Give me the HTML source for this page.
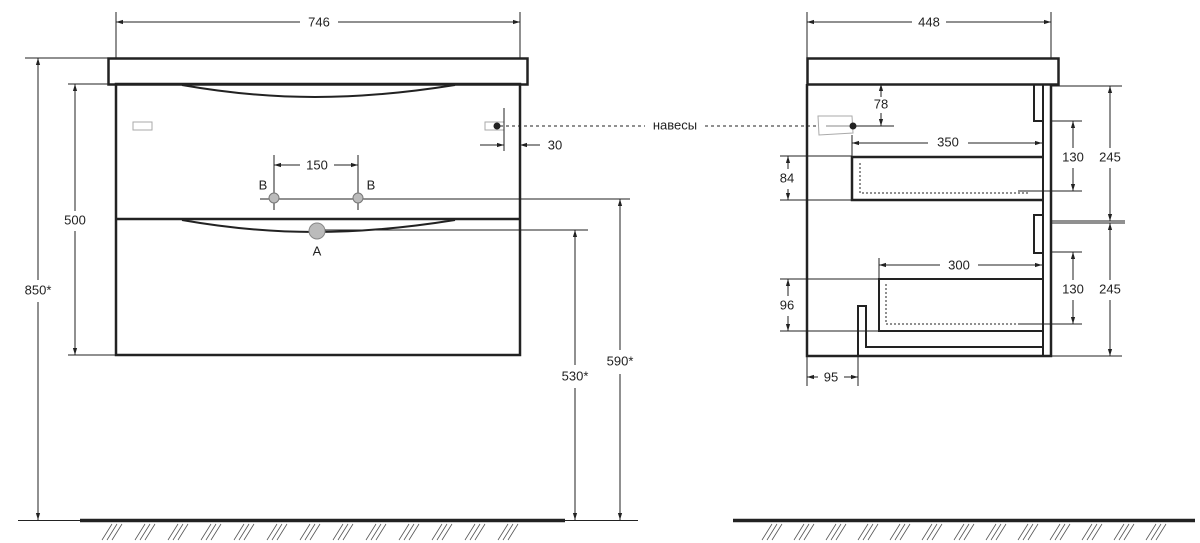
<!DOCTYPE html>
<html><head><meta charset="utf-8"><style>
html,body{margin:0;padding:0;background:#fff;}
svg{display:block}
text{font-family:"Liberation Sans",sans-serif;font-size:13px;fill:#222;text-anchor:middle;dominant-baseline:middle}
</style></head><body>
<svg width="1200" height="543" viewBox="0 0 1200 543" xmlns="http://www.w3.org/2000/svg">
<defs>
<marker id="a" viewBox="0 0 10 10" refX="10" refY="5" markerWidth="7" markerHeight="7" orient="auto-start-reverse"><path d="M0,2 L10,5 L0,8z" fill="#222"/></marker>
<pattern id="h" x="100" y="523" width="33" height="18" patternUnits="userSpaceOnUse">
<path d="M2,17 L12,1 M7,17 L17,1 M12,17 L22,1" stroke="#555" stroke-width="0.8" fill="none"/>
</pattern>
<pattern id="h2" x="760" y="523" width="32" height="18" patternUnits="userSpaceOnUse">
<path d="M2,17 L12,1 M7,17 L17,1 M12,17 L22,1" stroke="#555" stroke-width="0.8" fill="none"/>
</pattern>
</defs>
<g stroke="#222" fill="none" stroke-width="1">
<!-- LEFT VIEW -->
<rect x="108.5" y="58.5" width="419" height="26" stroke-width="2.5"/>
<rect x="116" y="84" width="404" height="271" stroke-width="2.5"/>
<line x1="116" y1="219" x2="520" y2="219" stroke-width="2.5"/>
<path d="M182,85 Q250,97 315,97 Q380,97 455,85" stroke-width="2"/>
<path d="M182,220 Q250,232 315,232 Q380,232 455,220" stroke-width="2"/>
<rect x="133" y="122" width="19" height="8" stroke="#aaa"/>
<rect x="485" y="122" width="19" height="8" stroke="#aaa"/>
<circle cx="497" cy="126" r="3" fill="#222"/>
<line x1="500" y1="126" x2="645" y2="126" stroke-dasharray="3,3"/>
<line x1="705" y1="126" x2="830" y2="126" stroke-dasharray="3,3"/>
<line x1="116" y1="12" x2="116" y2="58"/><line x1="520" y1="12" x2="520" y2="58"/>
<line x1="116" y1="22" x2="300" y2="22" marker-start="url(#a)"/><line x1="338" y1="22" x2="520" y2="22" marker-end="url(#a)"/>
<line x1="25" y1="58" x2="108" y2="58"/>
<line x1="38" y1="58" x2="38" y2="280" marker-start="url(#a)"/><line x1="38" y1="302" x2="38" y2="520" marker-end="url(#a)"/>
<line x1="68" y1="84" x2="116" y2="84"/><line x1="68" y1="355" x2="116" y2="355"/>
<line x1="75" y1="84" x2="75" y2="211" marker-start="url(#a)"/><line x1="75" y1="231" x2="75" y2="355" marker-end="url(#a)"/>
<line x1="274" y1="155" x2="274" y2="210"/><line x1="358" y1="155" x2="358" y2="210"/>
<line x1="274" y1="165" x2="300" y2="165" marker-start="url(#a)"/><line x1="334" y1="165" x2="358" y2="165" marker-end="url(#a)"/>
<line x1="260" y1="199" x2="630" y2="199"/>
<circle cx="274" cy="198" r="5" fill="#bbb" stroke="#777"/>
<circle cx="358" cy="198" r="5" fill="#bbb" stroke="#777"/>
<circle cx="317" cy="231" r="8" fill="#bbb" stroke="#888"/>
<line x1="325" y1="230" x2="588" y2="230"/>
<line x1="504" y1="108" x2="504" y2="151"/>
<line x1="480" y1="145" x2="504" y2="145" marker-end="url(#a)"/>
<line x1="540" y1="145" x2="520" y2="145" marker-end="url(#a)"/>
<line x1="620" y1="199" x2="620" y2="350" marker-start="url(#a)"/><line x1="620" y1="374" x2="620" y2="520" marker-end="url(#a)"/>
<line x1="575" y1="230" x2="575" y2="365" marker-start="url(#a)"/><line x1="575" y1="388" x2="575" y2="520" marker-end="url(#a)"/>
<line x1="18" y1="520.5" x2="638" y2="520.5"/>
<line x1="80" y1="520.5" x2="565" y2="520.5" stroke-width="3.5"/>
<rect x="100" y="523" width="430" height="18" fill="url(#h)" stroke="none"/>
<!-- RIGHT VIEW -->
<rect x="807.5" y="58.5" width="251" height="26" stroke-width="2.5"/>
<path d="M807,84 V356 H1051 V84" stroke-width="2.5"/>
<line x1="1043" y1="84" x2="1043" y2="356" stroke-width="2"/>
<path d="M1043,121 H1034 V85" stroke-width="2"/>
<path d="M1043,253 H1034 V215 H1043" stroke-width="2"/>
<line x1="1051" y1="221" x2="1125" y2="221"/><line x1="1051" y1="223" x2="1125" y2="223"/>
<path d="M1042,157 H852 V200 H1042" stroke-width="2.5"/>
<path d="M860,163 V193 H1030" stroke-dasharray="2,2"/>
<path d="M1042,279 H879 V331 H1042" stroke-width="2"/>
<path d="M886,284 V324 H1030" stroke-dasharray="2,2"/>
<path d="M858,356 V306 H866 V347 H1042" stroke-width="2"/>
<path d="M818,116 L852,116 L853,133 L819,135z" stroke="#aaa" fill="#fff"/>
<line x1="826" y1="126" x2="852" y2="126" stroke="#888"/>
<circle cx="853" cy="126" r="3" fill="#222"/>
<line x1="807" y1="12" x2="807" y2="58"/><line x1="1051" y1="12" x2="1051" y2="58"/>
<line x1="807" y1="22" x2="912" y2="22" marker-start="url(#a)"/><line x1="946" y1="22" x2="1051" y2="22" marker-end="url(#a)"/>
<line x1="881" y1="84" x2="881" y2="97" marker-start="url(#a)"/><line x1="881" y1="113" x2="881" y2="126" marker-end="url(#a)"/>
<line x1="853" y1="126" x2="894" y2="126"/>
<line x1="852" y1="135" x2="852" y2="157"/>
<line x1="852" y1="143" x2="928" y2="143" marker-start="url(#a)"/><line x1="968" y1="143" x2="1042" y2="143" marker-end="url(#a)"/>
<line x1="879" y1="258" x2="879" y2="279"/>
<line x1="879" y1="265" x2="940" y2="265" marker-start="url(#a)"/><line x1="978" y1="265" x2="1042" y2="265" marker-end="url(#a)"/>
<line x1="780" y1="156" x2="852" y2="156"/><line x1="780" y1="200" x2="852" y2="200"/>
<line x1="788" y1="156" x2="788" y2="169" marker-start="url(#a)"/><line x1="788" y1="189" x2="788" y2="200" marker-end="url(#a)"/>
<line x1="780" y1="279" x2="879" y2="279"/><line x1="780" y1="331" x2="879" y2="331"/>
<line x1="788" y1="279" x2="788" y2="296" marker-start="url(#a)"/><line x1="788" y1="316" x2="788" y2="331" marker-end="url(#a)"/>
<line x1="807" y1="356" x2="807" y2="386"/><line x1="858" y1="356" x2="858" y2="386"/>
<line x1="807" y1="377" x2="818" y2="377" marker-start="url(#a)"/><line x1="844" y1="377" x2="858" y2="377" marker-end="url(#a)"/>
<line x1="1051" y1="121" x2="1082" y2="121"/><line x1="1018" y1="191" x2="1082" y2="191"/>
<line x1="1073" y1="121" x2="1073" y2="148" marker-start="url(#a)"/><line x1="1073" y1="168" x2="1073" y2="191" marker-end="url(#a)"/>
<line x1="1051" y1="252" x2="1082" y2="252"/><line x1="1018" y1="324" x2="1082" y2="324"/>
<line x1="1073" y1="252" x2="1073" y2="280" marker-start="url(#a)"/><line x1="1073" y1="300" x2="1073" y2="324" marker-end="url(#a)"/>
<line x1="1051" y1="86" x2="1122" y2="86"/><line x1="1051" y1="356" x2="1122" y2="356"/>
<line x1="1110" y1="86" x2="1110" y2="148" marker-start="url(#a)"/><line x1="1110" y1="168" x2="1110" y2="221" marker-end="url(#a)"/>
<line x1="1110" y1="223" x2="1110" y2="280" marker-start="url(#a)"/><line x1="1110" y1="300" x2="1110" y2="356" marker-end="url(#a)"/>
<line x1="733" y1="520.5" x2="1195" y2="520.5" stroke-width="3.5"/>
<rect x="760" y="523" width="412" height="18" fill="url(#h2)" stroke="none"/>
</g>
<text x="319" y="23">746</text>
<text x="38" y="291">850*</text>
<text x="75" y="221">500</text>
<text x="317" y="166">150</text>
<text x="263" y="186">B</text><text x="371" y="186">B</text>
<text x="317" y="252">A</text>
<text x="555" y="146">30</text>
<text x="675" y="126">навесы</text>
<text x="620" y="362">590*</text>
<text x="575" y="377">530*</text>
<text x="929" y="23">448</text>
<text x="881" y="105">78</text>
<text x="948" y="143">350</text>
<text x="959" y="266">300</text>
<text x="787" y="179">84</text>
<text x="787" y="306">96</text>
<text x="831" y="378">95</text>
<text x="1073" y="158">130</text>
<text x="1073" y="290">130</text>
<text x="1110" y="158">245</text>
<text x="1110" y="290">245</text>
</svg>
</body></html>
